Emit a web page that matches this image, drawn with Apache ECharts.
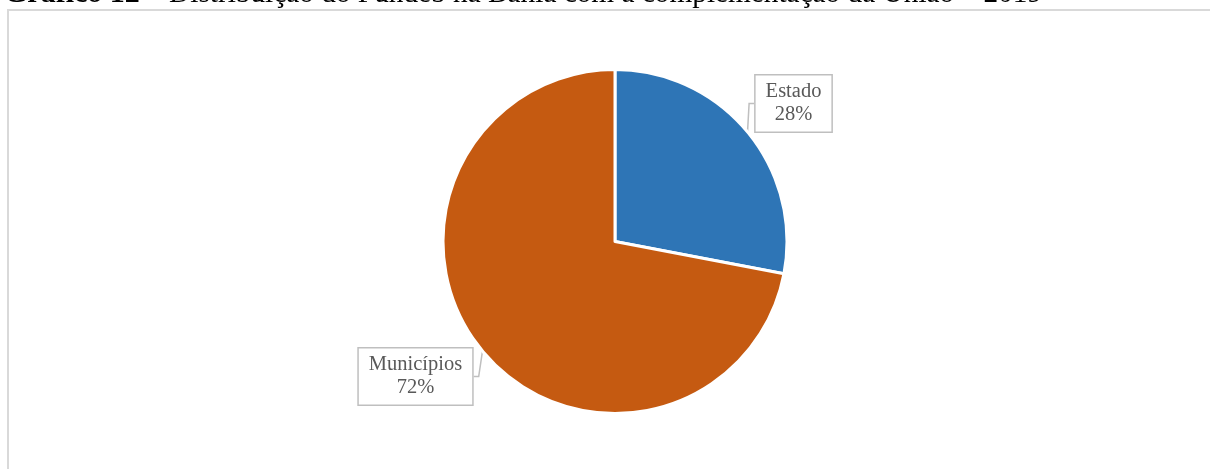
<!DOCTYPE html>
<html><head><meta charset="utf-8">
<script src="https://cdn.jsdelivr.net/npm/echarts@6/dist/echarts.min.js"></script>
<style>html,body{margin:0;padding:0;background:#fff}#c{width:1210px;height:469px}</style>
</head><body><div id="c"></div>
<script>
const categories = ['Estado', 'Municípios'];
const values = [28, 72];
const colors = ['#2E75B6', '#C55A11'];
const titleBold = 'Gráfico 12';
const titleRest = ' – Distribuição do Fundeb na Bahia com a complementação da União – 2019';

const chart = echarts.init(document.getElementById('c'), null, {renderer: 'canvas'});
const labelPos = [[793.5, 103.5], [415.5, 376.5]];
chart.setOption({
  animation: false,
  backgroundColor: '#fff',
  title: {
    text: '{b|' + titleBold + '}{n|' + titleRest + '}',
    left: -1, top: -26,
    textStyle: {
      fontWeight: 'normal',
      rich: {
        b: {fontFamily: 'Liberation Serif', fontSize: 30, fontWeight: 'bold', color: '#000', verticalAlign: 'bottom'},
        n: {fontFamily: 'Liberation Serif', fontSize: 29.3, fontWeight: 'normal', color: '#000', verticalAlign: 'bottom'}
      }
    }
  },
  graphic: [{
    type: 'rect', shape: {x: 8, y: 10, width: 1220, height: 480},
    style: {fill: null, stroke: '#d9d9d9', lineWidth: 2}, silent: true
  }],
  series: [{
    type: 'pie',
    center: [615, 241.5],
    radius: 172,
    startAngle: 90,
    clockwise: true,
    data: categories.map((c, i) => ({name: c, value: values[i], itemStyle: {color: colors[i]}})),
    itemStyle: {borderColor: '#fff', borderWidth: 3},
    label: {
      show: true, position: 'outside',
      formatter: '{b}\n{d}%',
      fontFamily: 'Liberation Serif', fontSize: 20.5, color: '#595959',
      lineHeight: 23, align: 'center',
      backgroundColor: '#fff', borderColor: '#bfbfbf', borderWidth: 1.5,
      padding: [5, 10, 5, 10]
    },
    labelLine: {show: true, length: 5, length2: 5, lineStyle: {color: '#bfbfbf', width: 1.5}},
    labelLayout: function (p) {
      const pos = labelPos[p.dataIndex];
      return {x: pos[0], y: pos[1], align: 'center', verticalAlign: 'middle', hideOverlap: false};
    }
  }]
});
</script></body></html>
